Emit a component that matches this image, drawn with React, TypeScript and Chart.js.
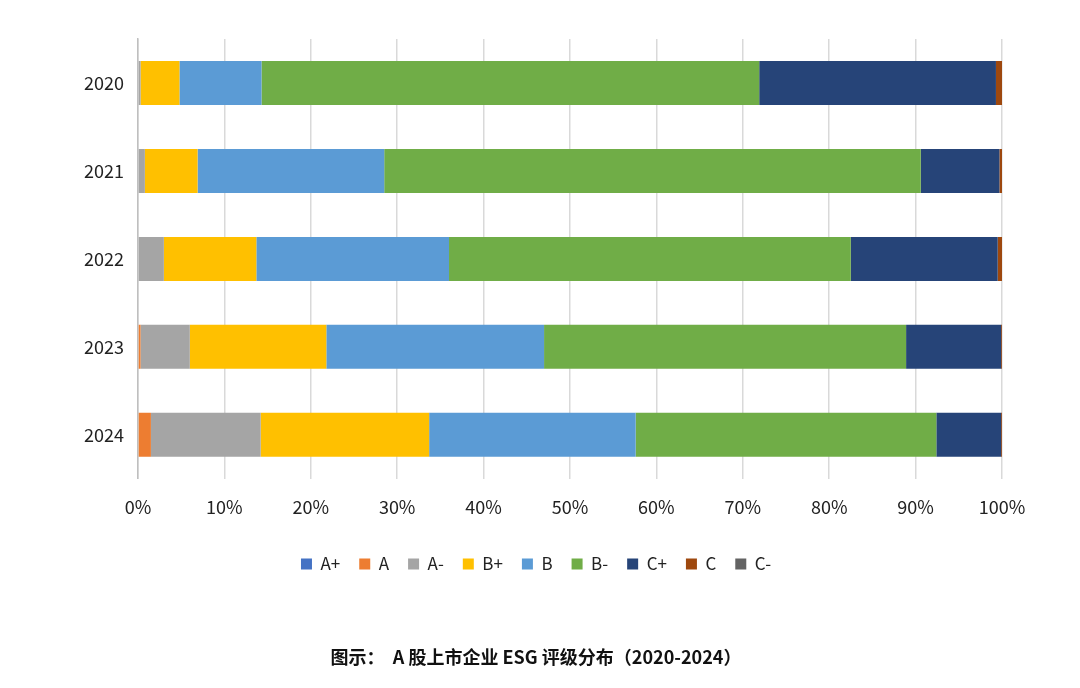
import React, { useEffect, useRef } from "react";
import { Chart, registerables } from "chart.js";
Chart.register(...registerables);

const categories = ["2020", "2021", "2022", "2023", "2024"];
const seriesNames = ["A+", "A", "A-", "B+", "B", "B-", "C+", "C", "C-"];
const colors = ["#4472C4", "#ED7D31", "#A5A5A5", "#FFC000", "#5B9BD5", "#70AD47", "#264478", "#9E480E", "#636363"];
const aPlus = [0, 0, 0, 0, 0];
const aVals = [0, 0, 0, 0.3, 1.5];
const aMinus = [0.3, 0.8, 3.0, 5.7, 12.7];
const bPlus = [4.5, 6.1, 10.7, 15.8, 19.5];
const bVals = [9.5, 21.6, 22.3, 25.2, 23.9];
const bMinus = [57.6, 62.1, 46.5, 41.9, 34.8];
const cPlus = [27.4, 9.1, 17.0, 11.0, 7.5];
const cVals = [0.7, 0.3, 0.5, 0.1, 0.1];
const cMinus = [0, 0, 0, 0, 0];
const titleText = "图示：  A 股上市企业 ESG 评级分布（2020-2024）";

export default function App() {
  const ref = useRef<HTMLCanvasElement>(null);
  useEffect(() => {
    document.body.style.margin = "0";
    const data = [aPlus, aVals, aMinus, bPlus, bVals, bMinus, cPlus, cVals, cMinus];
    const font = "'Noto Sans CJK SC', 'Noto Sans', sans-serif";
    const chart = new Chart(ref.current!, {
      type: "bar",
      data: {
        labels: categories,
        datasets: seriesNames.map((n, i) => ({
          label: n,
          data: data[i],
          backgroundColor: colors[i],
          barPercentage: 0.5,
          categoryPercentage: 1,
        })),
      },
      options: {
        animation: false,
        responsive: false,
        indexAxis: "y",
        layout: { padding: { left: 70, right: 78, top: 39, bottom: 10 } },
        scales: {
          x: {
            stacked: true,
            min: 0,
            max: 100,
            ticks: { stepSize: 10, callback: (v: any) => v + "%", color: "#222", font: { size: 18, family: font }, padding: 18 },
            grid: { color: "#d9d9d9", lineWidth: 1.5, drawTicks: false },
            border: { display: false },
          },
          y: {
            stacked: true,
            ticks: { color: "#222", font: { size: 18, family: font }, padding: 14 },
            grid: { display: false, drawTicks: false },
            border: { color: "#bfbfbf", width: 1.5 },
          },
        },
        plugins: {
          legend: {
            position: "bottom",
            labels: { boxWidth: 11, boxHeight: 11, color: "#222", font: { size: 17, family: font }, padding: 19 },
          },
          title: {
            display: true,
            text: titleText,
            position: "bottom",
            color: "#111",
            font: { size: 18, weight: "bold", family: font },
            padding: { top: 64, bottom: 10 },
          },
          tooltip: { enabled: false },
        },
      },
    });
    return () => chart.destroy();
  }, []);
  return (
    <div style={{ width: 1080, height: 688, background: "#fff" }}>
      <canvas ref={ref} width={1080} height={688} style={{ width: 1080, height: 688 }} />
    </div>
  );
}
